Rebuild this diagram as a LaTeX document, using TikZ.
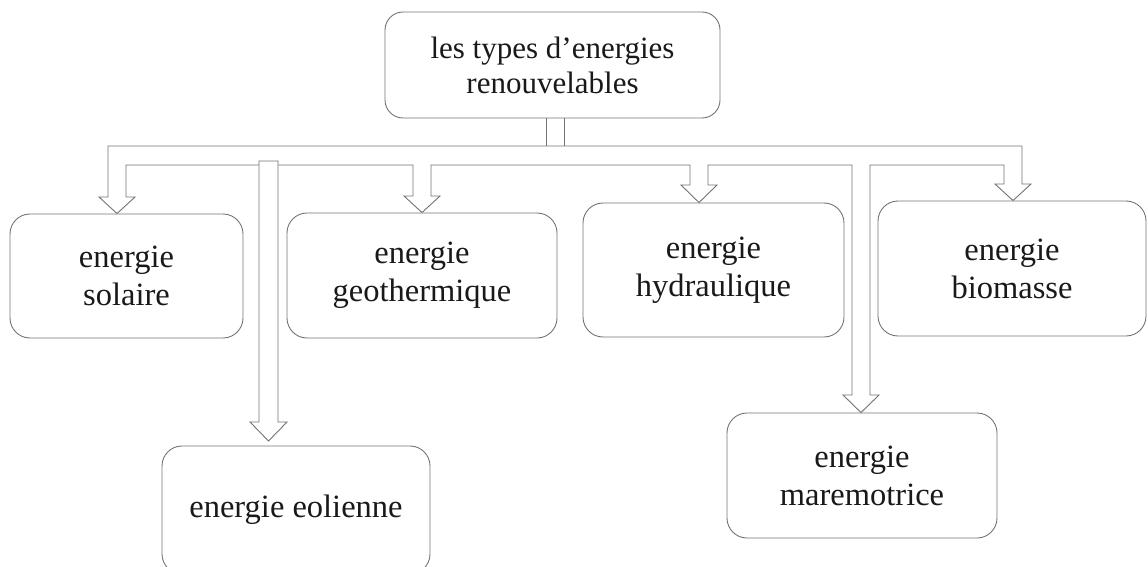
\documentclass[tikz,border=0pt]{standalone}
\usepackage{fontspec}
\setmainfont{Liberation Serif}
\begin{document}
\begin{tikzpicture}[x=1pt,y=-1pt,
  box/.style={draw=black!55, line width=0.9pt, rounded corners=20pt, align=center,
    font=\fontsize{32.5}{38}\selectfont, text=black!90, inner sep=0pt},
  conn/.style={draw=black!55, line width=0.9pt, fill=white, line join=miter}]
\useasboundingbox (0,0) rectangle (1148,567);
% boxes
\node[box, minimum width=335pt, minimum height=106pt, rounded corners=18pt,
  font=\fontsize{31}{35}\selectfont] (top) at (552.5,65) {les types d’energies\\renouvelables};
\node[box, minimum width=233pt, minimum height=124pt] (sol) at (126.5,276) {energie\\solaire};
\node[box, minimum width=270pt, minimum height=125pt] (geo) at (422,275.5) {energie\\geothermique};
\node[box, minimum width=261pt, minimum height=134pt] (hyd) at (713.5,270) {energie\\hydraulique};
\node[box, minimum width=268pt, minimum height=135pt] (bio) at (1012,268.5) {energie\\biomasse};
\node[box, minimum width=268pt, minimum height=128pt] (eol) at (296,510) {energie eolienne};
\node[box, minimum width=270pt, minimum height=125pt] (mar) at (862,475.5) {energie\\maremotrice};
% bar coordinates
\coordinate (bt) at (0,146);
\coordinate (bb) at (0,165);
% stem from the top box to the bar
\draw[conn] (546,0 |- top.south) -- (546,0 |- bt);
\draw[conn] (564,0 |- top.south) -- (564,0 |- bt);
% bar with the block arrows to five boxes
\draw[conn] (108,0 |- bt) -- (1022,0 |- bt)
  -- (1022,184) -- (1031,184) -- (1013,0 |- bio.north) -- (995,184) -- (1004,184)
  -- (1004,0 |- bb) -- (870,0 |- bb)
  -- (870,395) -- (879,395) -- (861,0 |- mar.north) -- (843,395) -- (852,395)
  -- (852,0 |- bb) -- (708,0 |- bb)
  -- (708,185) -- (717,185) -- (699,0 |- hyd.north) -- (681,185) -- (690,185)
  -- (690,0 |- bb) -- (431,0 |- bb)
  -- (431,196) -- (440,196) -- (422,0 |- geo.north) -- (404,196) -- (413,196)
  -- (413,0 |- bb) -- (126,0 |- bb)
  -- (126,197) -- (135,197) -- (117,0 |- sol.north) -- (99,197) -- (108,197)
  -- cycle;
% block arrow to the eolienne box
\draw[conn] (259,161) -- (278,161) -- (278,422) -- (287,422) -- (268.5,441)
  -- (250,422) -- (259,422) -- cycle;
\end{tikzpicture}
\end{document}
